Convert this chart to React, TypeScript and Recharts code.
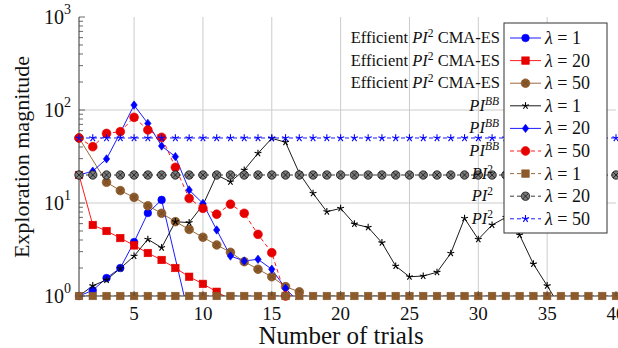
import { LineChart, Line, XAxis, YAxis, CartesianGrid } from "recharts";

const W = 618;
const H = 348;
const FONT = '"Liberation Serif", "DejaVu Serif", serif';

// x categories: trial number
const trials = [
  1, 2, 3, 4, 5, 6, 7, 8, 9, 10, 11, 12, 13, 14, 15, 16, 17, 18, 19, 20,
  21, 22, 23, 24, 25, 26, 27, 28, 29, 30, 31, 32, 33, 34, 35, 36, 37, 38, 39, 40,
];

// Efficient PI^2 CMA-ES
const effL1 = [1, 1.15, 1.56, 2.0, 3.8, 7.8, 10.8, null, 0.59];
const effL20 = [20, 5.8, 5.0, 4.2, 3.5, 2.9, 2.44, 2.0, 1.61, 1.35, 1.11, 0.92];
const effL50 = [50, null, 16.7, 13.6, 11.5, 9.35, 7.75, 6.3, 5.2, 4.28, 3.54, 2.95, 2.34, 1.94, 1.61, 1.26, 1.11];

// PI^BB
const bbL1 = [
  1, 1.29, 1.49, 1.98, 2.69, 4.07, 3.31, 6.3, 6.15, 9.5, 20, 16.9, 22.6, 34.2, 49.6, 45, 20.9, 12.7,
  8.06, 8.76, 5.95, 5.47, 3.74, 2.1, 1.61, 1.64, 1.8, 2.88, 6.84, 4.07, 5.8, 7.0, 4.53, 2.21, 1.29, 0.74,
];
const bbL20 = [20, 22, 29.8, 57, 113, 71.8, 41, 31.5, 13.8, 9.9, 5.13, 2.69, 2.38, 2.48, 1.94, 1.21, 0.84];
const bbL50 = [50, 40.3, 56, 58.5, 83.4, 61, 50.9, 24.2, 11.2, 8.76, 7.57, 9.7, 7.75, 4.6, 2.92, 1.0];

// PI^2
const pi2L1 = [
  1, 1, 1, 1, 1, 1, 1, 1, 1, 1, 1, 1, 1, 1, 1, 1, 1, 1, 1, 1,
  1, 1, 1, 1, 1, 1, 1, 1, 1, 1, 1, 1, 1, 1, 1, 1, 1, 1, 1, 1,
];
const pi2L20 = [
  20, 20, 20, 20, 20, 20, 20, 20, 20, 20, 20, 20, 20, 20, 20, 20, 20, 20, 20, 20,
  20, 20, 20, 20, 20, 20, 20, 20, 20, 20, 20, 20, 20, 20, 20, 20, 20, 20, 20, 20,
];
const pi2L50 = [
  50, 50, 50, 50, 50, 50, 50, 50, 50, 50, 50, 50, 50, 50, 50, 50, 50, 50, 50, 50,
  50, 50, 50, 50, 50, 50, 50, 50, 50, 50, 50, 50, 50, 50, 50, 50, 50, 50, 50, 50,
];

const xTicks = [5, 10, 15, 20, 25, 30, 35, 40];
const xGrid = [5, 10, 15, 20, 25, 30, 35];
const yMajor = [1, 10, 100, 1000];
const yExponents = ["0", "1", "2", "3"];
const yMinor = [2, 3, 4, 5, 6, 7, 8, 9, 20, 30, 40, 50, 60, 70, 80, 90, 200, 300, 400, 500, 600, 700, 800, 900];
const yTicks = [...yMajor, ...yMinor].sort((a, b) => a - b);

const methodLabels = ["eff", "eff", "eff", "bb", "bb", "bb", "pi2", "pi2", "pi2"];
const lambdaLabels = ["λ = 1", "λ = 20", "λ = 50", "λ = 1", "λ = 20", "λ = 50", "λ = 1", "λ = 20", "λ = 50"];

const seriesValues: Record<string, (number | null)[]> = {
  effL1, effL20, effL50, bbL1, bbL20, bbL50, pi2L1, pi2L20, pi2L50,
};

// row per trial: raw value for the line, and a marks copy that drops points under the axis
const data = trials.map((t, i) => {
  const row: Record<string, number | null> = { t };
  for (const k of Object.keys(seriesValues)) {
    const v = seriesValues[k][i] ?? null;
    row[k] = v;
    row[k + "_m"] = v != null && v >= 1 ? v : null;
  }
  return row;
});

type Mk = (cx: number, cy: number) => JSX.Element;

const mkCircle = (fill: string, r: number): Mk => (cx, cy) => (
  <circle cx={cx} cy={cy} r={r} fill={fill} stroke={fill} strokeWidth={0.6} />
);
const mkSquare = (fill: string, s: number): Mk => (cx, cy) => (
  <rect x={cx - s / 2} y={cy - s / 2} width={s} height={s} fill={fill} stroke={fill} strokeWidth={0.6} />
);
const mkDiamond = (fill: string, w: number, h: number): Mk => (cx, cy) => (
  <polygon
    points={`${cx},${cy - h} ${cx + w},${cy} ${cx},${cy + h} ${cx - w},${cy}`}
    fill={fill}
    stroke={fill}
    strokeWidth={0.6}
  />
);
const mkStar = (stroke: string, r: number): Mk => (cx, cy) => (
  <g>
    {[0, 1, 2, 3, 4].map((k) => {
      const a = -Math.PI / 2 + (k * 2 * Math.PI) / 5;
      return (
        <line key={k} x1={cx} y1={cy} x2={cx + r * Math.cos(a)} y2={cy + r * Math.sin(a)} stroke={stroke} strokeWidth={1.1} />
      );
    })}
  </g>
);
const mkOtimes = (fill: string, stroke: string, cross: string, r: number): Mk => (cx, cy) => {
  const d = r * 0.7;
  return (
    <g>
      <circle cx={cx} cy={cy} r={r} fill={fill} stroke={stroke} strokeWidth={0.8} />
      <line x1={cx - d} y1={cy - d} x2={cx + d} y2={cy + d} stroke={cross} strokeWidth={0.8} />
      <line x1={cx - d} y1={cy + d} x2={cx + d} y2={cy - d} stroke={cross} strokeWidth={0.8} />
    </g>
  );
};

const BLUE = "#0000ff";
const RED = "#ff0000";
const RED_MK = "#e60000";
const BROWN = "#8c5a2b";

const series = [
  { key: "effL1", stroke: BLUE, dash: undefined, mk: mkCircle(BLUE, 3.8) },
  { key: "effL20", stroke: RED, dash: undefined, mk: mkSquare(RED_MK, 7.5) },
  { key: "effL50", stroke: BROWN, dash: undefined, mk: mkOtimes(BROWN, BROWN, "#6e4520", 4.3) },
  { key: "bbL1", stroke: "#000", dash: undefined, mk: mkStar("#000", 3.6) },
  { key: "bbL20", stroke: BLUE, dash: undefined, mk: mkDiamond(BLUE, 3.2, 4.2) },
  { key: "bbL50", stroke: RED, dash: "4 3", mk: mkCircle(RED_MK, 4.4) },
  { key: "pi2L1", stroke: BROWN, dash: "4 3", mk: mkSquare(BROWN, 7.5) },
  { key: "pi2L20", stroke: "#222", dash: "4 3", mk: mkOtimes("#7a7a7a", "#111", "#111", 4.2) },
  { key: "pi2L50", stroke: BLUE, dash: "4 3", mk: mkStar(BLUE, 3.8) },
];

const dotFor = (mk: Mk) => (p: any) => {
  const k = `d-${p.index}`;
  if (p.value == null || !Number.isFinite(p.cy) || !Number.isFinite(p.cx)) return <g key={k} />;
  return <g key={k}>{mk(p.cx, p.cy)}</g>;
};

const LeftTick = (p: any) => {
  const v = p.payload.value;
  const mi = yMajor.indexOf(v);
  const major = mi >= 0;
  return (
    <g>
      <line x1={p.x} x2={p.x + (major ? 6 : 4)} y1={p.y} y2={p.y} stroke="#444" strokeWidth={0.8} />
      {major && (
        <text x={p.x - 8} y={p.y + 7} textAnchor="end" fontFamily={FONT} fontSize={20} fill="#111">
          10
          <tspan dy={-10} fontSize={14}>
            {yExponents[mi]}
          </tspan>
        </text>
      )}
    </g>
  );
};

const RightTick = (p: any) => {
  const major = yMajor.includes(p.payload.value);
  return <line x1={p.x} x2={p.x - (major ? 6 : 4)} y1={p.y} y2={p.y} stroke="#444" strokeWidth={0.8} />;
};

const BottomTick = (p: any) => (
  <g>
    <line x1={p.x} x2={p.x} y1={p.y} y2={p.y - 5} stroke="#444" strokeWidth={0.8} />
    <text x={p.x} y={p.y + 24} textAnchor="middle" fontFamily={FONT} fontSize={19} fill="#111">
      {p.payload.value}
    </text>
  </g>
);

const TopTick = (p: any) => (
  <line x1={p.x} x2={p.x} y1={p.y} y2={p.y + 5} stroke="#444" strokeWidth={0.8} />
);

const rowY = [38, 60.6, 83.2, 105.8, 128.4, 151, 173.6, 196.2, 218.8];

function MethodLabel({ kind, y }: { kind: string; y: number }) {
  if (kind === "eff") {
    return (
      <text x={500} y={y + 5} textAnchor="end" fontFamily={FONT} fontSize={16.5} fill="#111">
        {"Efficient "}
        <tspan fontStyle="italic">PI</tspan>
        <tspan dy={-6} fontSize={11.5}>2</tspan>
        <tspan dy={6}>{" CMA-ES"}</tspan>
      </text>
    );
  }
  if (kind === "bb") {
    return (
      <text x={499} y={y + 5} textAnchor="end" fontFamily={FONT} fontSize={16.5} fill="#111">
        <tspan fontStyle="italic">PI</tspan>
        <tspan dy={-6} fontSize={11.5} fontStyle="italic">BB</tspan>
      </text>
    );
  }
  return (
    <text x={493} y={y + 5} textAnchor="end" fontFamily={FONT} fontSize={16.5} fill="#111">
      <tspan fontStyle="italic">PI</tspan>
      <tspan dy={-6} fontSize={11.5}>2</tspan>
    </text>
  );
}

export default function App() {
  return (
    <div style={{ position: "absolute", left: 0, top: 0, width: W, height: H, background: "#fff" }}>
      <LineChart width={W} height={H} data={data} margin={{ top: 17, right: 2, left: 0, bottom: 0 }}>
        <CartesianGrid
          horizontalValues={[10, 100]}
          verticalValues={xGrid}
          stroke="#cccccc"
          strokeWidth={1}
        />
        <XAxis
          dataKey="t"
          type="number"
          domain={[1, 40]}
          ticks={xTicks}
          interval={0}
          height={52}
          tickSize={0}
          tickMargin={0}
          tickLine={false}
          tick={BottomTick}
          axisLine={{ stroke: "#333" }}
        />
        <XAxis
          xAxisId="top"
          orientation="top"
          dataKey="t"
          type="number"
          domain={[1, 40]}
          ticks={xTicks}
          interval={0}
          height={0}
          tickSize={0}
          tickMargin={0}
          tickLine={false}
          tick={TopTick}
          axisLine={{ stroke: "#333" }}
        />
        <YAxis
          scale="log"
          type="number"
          domain={[1, 1000]}
          allowDataOverflow
          ticks={yTicks}
          interval={0}
          width={79}
          tickSize={0}
          tickMargin={0}
          tickLine={false}
          tick={LeftTick}
          axisLine={{ stroke: "#333" }}
        />
        <YAxis
          yAxisId="right"
          orientation="right"
          scale="log"
          type="number"
          domain={[1, 1000]}
          allowDataOverflow
          ticks={yTicks}
          interval={0}
          width={0}
          tickSize={0}
          tickMargin={0}
          tickLine={false}
          tick={RightTick}
          axisLine={{ stroke: "#333" }}
        />
        <YAxis yAxisId="marks" hide scale="log" type="number" domain={[1, 1000]} />
        {series.flatMap((s) => [
          <Line
            key={s.key}
            dataKey={s.key}
            stroke={s.stroke}
            strokeWidth={0.9}
            strokeDasharray={s.dash}
            dot={false}
            activeDot={false}
            connectNulls
            isAnimationActive={false}
          />,
          <Line
            key={s.key + "_m"}
            yAxisId="marks"
            dataKey={s.key + "_m"}
            stroke="none"
            dot={dotFor(s.mk)}
            activeDot={false}
            legendType="none"
            isAnimationActive={false}
          />,
        ])}
      </LineChart>
      <svg width={W} height={H} style={{ position: "absolute", left: 0, top: 0, pointerEvents: "none" }}>
        <text
          transform="translate(21,157) rotate(-90)"
          textAnchor="middle"
          dominantBaseline="central"
          fontFamily={FONT}
          fontSize={22}
          fill="#111"
        >
          Exploration magnitude
        </text>
        <text x={341} y={344} textAnchor="middle" fontFamily={FONT} fontSize={25} fill="#111">
          Number of trials
        </text>
        {methodLabels.map((m, i) => (
          <MethodLabel key={i} kind={m} y={rowY[i]} />
        ))}
        <rect x={504} y={23} width={103} height={210} fill="#fff" stroke="#333" strokeWidth={1} />
        {series.map((s, i) => (
          <g key={s.key}>
            <line
              x1={510}
              x2={541}
              y1={rowY[i]}
              y2={rowY[i]}
              stroke={s.stroke}
              strokeWidth={0.9}
              strokeDasharray={s.dash}
            />
            {s.mk(525.5, rowY[i])}
            <text x={545} y={rowY[i] + 6} fontFamily={FONT} fontSize={18} fill="#111">
              <tspan fontStyle="italic">λ</tspan>
              {lambdaLabels[i].slice(1)}
            </text>
          </g>
        ))}
      </svg>
    </div>
  );
}
